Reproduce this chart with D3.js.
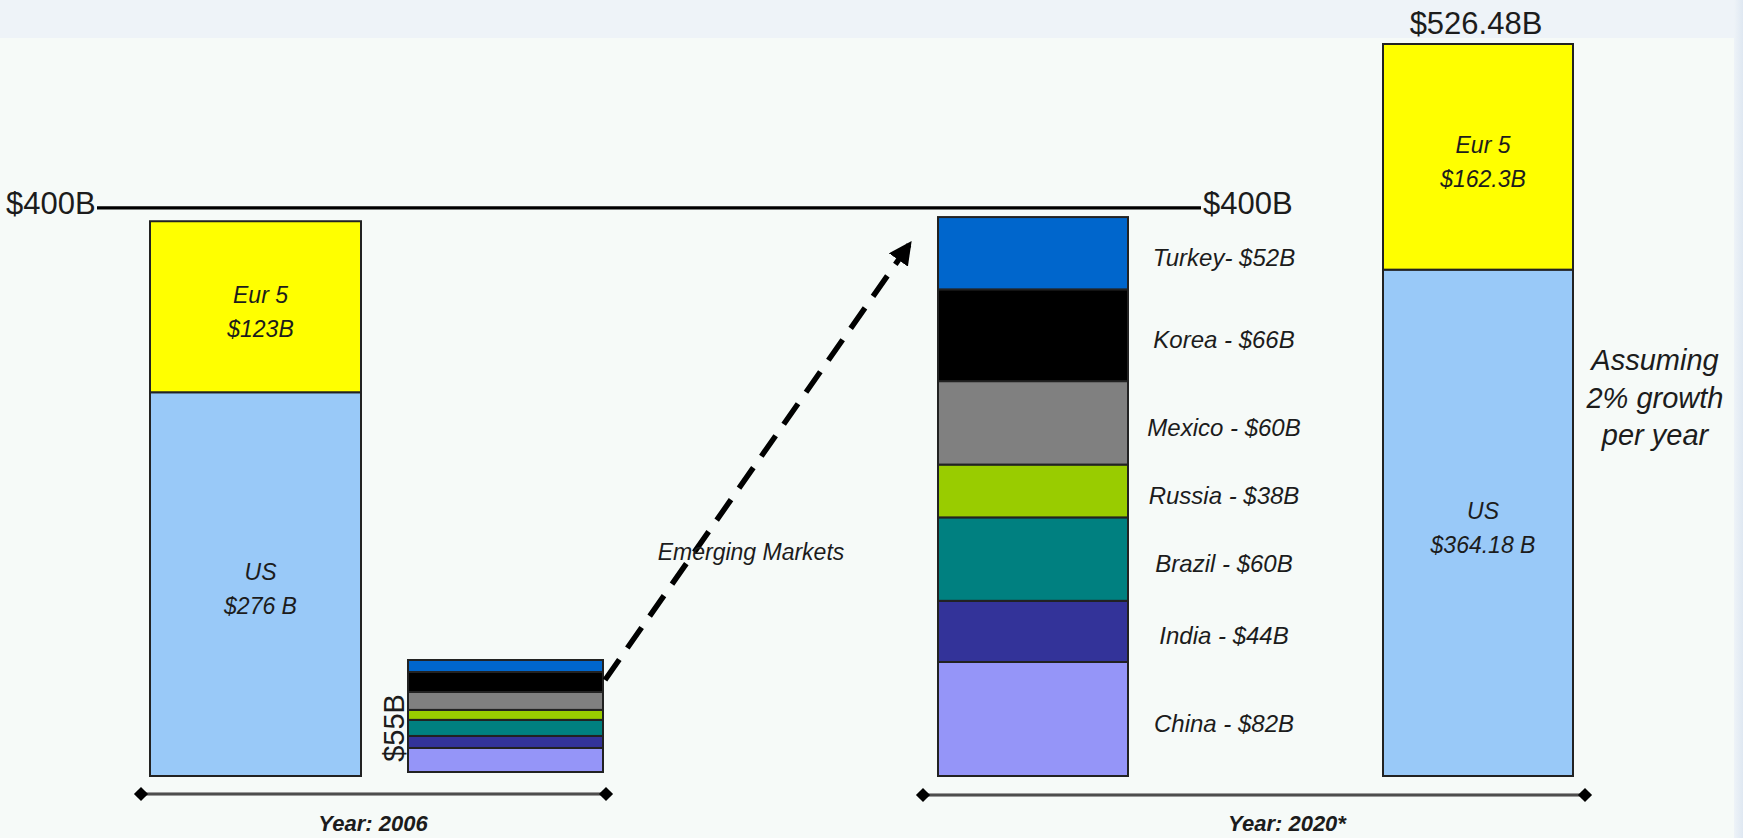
<!DOCTYPE html>
<html>
<head>
<meta charset="utf-8">
<script src="https://cdn.jsdelivr.net/npm/d3@7"></script>
<style>
  html, body { margin: 0; padding: 0; background: #eef3f8; }
  svg { display: block; font-family: "Liberation Sans", Arial, sans-serif; }
</style>
</head>
<body>
<script>
// ---- Data ($ billions) ----
const markets = ["China", "India", "Brazil", "Russia", "Mexico", "Korea", "Turkey"];
const emerging2020 = [82, 44, 60, 38, 60, 66, 52];
const emerging2006 = [11.8, 5.9, 7.9, 4.9, 8.8, 9.8, 5.9];
const emerging2006Total = 55;
const marketLabels = ["China - $82B", "India - $44B", "Brazil - $60B", "Russia - $38B",
                      "Mexico - $60B", "Korea - $66B", "Turkey- $52B"];

const mature = ["US", "Eur 5"];
const mature2006 = [276, 123];
const mature2020 = [364.18, 162.3];
const mature2006Labels = ["$276 B", "$123B"];
const mature2020Labels = ["$364.18 B", "$162.3B"];
const total2020 = 526.48;

const referenceLevel = 400;
const yearLabels = ["Year: 2006", "Year: 2020*"];
const growthNote = ["Assuming", "2% growth", "per year"];

// ---- Styles ----
const marketColors = {
  China: "#9595f8", India: "#333399", Brazil: "#008080", Russia: "#99cc00",
  Mexico: "#808080", Korea: "#000000", Turkey: "#0066cc"
};
const matureColors = { "US": "#99c9f8", "Eur 5": "#ffff00" };
const ink = "#1c1c1c";

const W = 1743, H = 838;
const svg = d3.select("body").append("svg").attr("width", W).attr("height", H);

// Backdrop: slide band on top, light panel for the chart
const defs = svg.append("defs");
const edge = defs.append("linearGradient").attr("id", "edge").attr("x1", 0).attr("x2", 1);
edge.append("stop").attr("offset", 0).attr("stop-color", "#eef3f8");
edge.append("stop").attr("offset", 1).attr("stop-color", "#dfe8f2");
svg.append("rect").attr("width", W).attr("height", H).attr("fill", "#eef3f8");
svg.append("rect").attr("x", 1734).attr("width", 9).attr("height", H).attr("fill", "url(#edge)");
svg.append("rect").attr("x", 0).attr("y", 38).attr("width", 1734).attr("height", H - 38).attr("fill", "#f6faf8");

// ---- Scales ----
const y = d3.scaleLinear().domain([0, total2020]).range([776, 44]);
// the 2006 emerging-markets column is drawn as a magnified inset
const yInset = d3.scaleLinear().domain([0, emerging2006Total]).range([772, 660]);

const columns = ["mature2006", "emerging2006", "emerging2020", "mature2020"];
const xLeft = d3.scaleOrdinal().domain(columns).range([150, 408, 938, 1383]);
const colWidth = d3.scaleOrdinal().domain(columns).range([211, 195, 190, 190]);
const xMid = c => xLeft(c) + colWidth(c) / 2;

// ---- Reference line at $400B (sits just above the level so it clears bar outlines) ----
const refY = y(referenceLevel) - 12;
svg.append("line")
  .attr("x1", 97).attr("x2", 1201).attr("y1", refY).attr("y2", refY)
  .attr("stroke", "#000").attr("stroke-width", 3.2);
svg.append("text").attr("x", 6).attr("y", refY + 6)
  .attr("font-size", 31).attr("fill", ink).text("$" + referenceLevel + "B");
svg.append("text").attr("x", 1203).attr("y", refY + 6)
  .attr("font-size", 31).attr("fill", ink).text("$" + referenceLevel + "B");

// ---- Stacked columns ----
function stack(values, names) {
  const ends = d3.cumsum(values);
  return values.map((v, i) => ({ name: names[i], value: v, y0: ends[i] - v, y1: ends[i], i }));
}

function drawColumn(col, segs, scale, colorOf) {
  const g = svg.append("g");
  g.selectAll("rect").data(segs).join("rect")
    .attr("x", xLeft(col))
    .attr("y", d => scale(d.y1))
    .attr("width", colWidth(col))
    .attr("height", d => scale(d.y0) - scale(d.y1))
    .attr("fill", d => colorOf(d.name))
    .attr("stroke", "#222").attr("stroke-width", 2);
  return g;
}

// mature markets, with two-line labels inside each segment
function drawMature(col, values, labels) {
  const segs = stack(values, mature);
  const g = drawColumn(col, segs, y, n => matureColors[n]);
  const t = g.selectAll("text").data(segs).join("text")
    .attr("text-anchor", "middle").attr("font-style", "italic")
    .attr("font-size", 23).attr("fill", ink)
    .attr("x", xMid(col) + 5)
    .attr("y", d => (y(d.y0) + y(d.y1)) / 2 - 4);
  t.append("tspan").text(d => d.name);
  t.append("tspan").attr("x", xMid(col) + 5).attr("dy", 34).text(d => labels[d.i]);
  return segs;
}

drawMature("mature2006", mature2006, mature2006Labels);
drawMature("mature2020", mature2020, mature2020Labels);

// total above the 2020 mature column
svg.append("text")
  .attr("x", xMid("mature2020") - 2).attr("y", y(total2020) - 10)
  .attr("text-anchor", "middle").attr("font-size", 31).attr("fill", ink)
  .text("$" + total2020 + "B");

// emerging markets 2006 (inset) with rotated total
drawColumn("emerging2006", stack(emerging2006, markets), yInset, n => marketColors[n]);
svg.append("text")
  .attr("transform", `translate(${xLeft("emerging2006") - 4},${(yInset(0) + yInset(emerging2006Total)) / 2 + 12}) rotate(-90)`)
  .attr("text-anchor", "middle").attr("font-size", 29).attr("fill", ink)
  .text("$" + emerging2006Total + "B");

// emerging markets 2020 with labels to the right
const em20 = stack(emerging2020, markets);
drawColumn("emerging2020", em20, y, n => marketColors[n]);
svg.append("g").selectAll("text").data(em20).join("text")
  .attr("x", 1224)
  .attr("y", d => (y(d.y0) + y(d.y1)) / 2 + 13)
  .attr("text-anchor", "middle").attr("font-style", "italic")
  .attr("font-size", 24).attr("fill", ink)
  .text(d => marketLabels[d.i]);

// ---- Dashed growth arrow between the two emerging-markets columns ----
defs.append("marker").attr("id", "head")
  .attr("viewBox", "0 0 10 10").attr("refX", 8).attr("refY", 5)
  .attr("markerWidth", 4.2).attr("markerHeight", 4.2).attr("orient", "auto")
  .attr("markerUnits", "strokeWidth")
  .append("path").attr("d", "M0,0 L10,5 L0,10 Z").attr("fill", "#000");

const arrowStart = [xLeft("emerging2006") + colWidth("emerging2006") + 2, yInset(emerging2006Total) + 20];
const arrowEnd = [xLeft("emerging2020") - 29, y(referenceLevel) + 25];
svg.append("line")
  .attr("x1", arrowStart[0]).attr("y1", arrowStart[1])
  .attr("x2", arrowEnd[0]).attr("y2", arrowEnd[1])
  .attr("stroke", "#000").attr("stroke-width", 5.5)
  .attr("stroke-dasharray", "25,14")
  .attr("marker-end", "url(#head)");

svg.append("text")
  .attr("x", 751).attr("y", 560)
  .attr("text-anchor", "middle").attr("font-style", "italic")
  .attr("font-size", 23).attr("fill", ink)
  .text("Emerging Markets");

// ---- Year axes with diamond ends ----
const axes = [
  { x0: 141, x1: 606, y: 794, labelX: 373, label: yearLabels[0] },
  { x0: 923, x1: 1585, y: 795, labelX: 1287, label: yearLabels[1] }
];
const diamond = d3.symbol().type(d3.symbolSquare).size(100);
axes.forEach(a => {
  svg.append("line")
    .attr("x1", a.x0).attr("x2", a.x1).attr("y1", a.y).attr("y2", a.y)
    .attr("stroke", "#9a9a9a").attr("stroke-width", 4);
  svg.append("line")
    .attr("x1", a.x0).attr("x2", a.x1).attr("y1", a.y).attr("y2", a.y)
    .attr("stroke", "#333").attr("stroke-width", 1.5);
  [a.x0, a.x1].forEach(x => {
    svg.append("path").attr("d", diamond())
      .attr("transform", `translate(${x},${a.y}) rotate(45)`)
      .attr("fill", "#000");
  });
  svg.append("text")
    .attr("x", a.labelX).attr("y", 831)
    .attr("text-anchor", "middle").attr("font-style", "italic").attr("font-weight", "bold")
    .attr("font-size", 22).attr("fill", ink)
    .text(a.label);
});

// ---- Growth assumption note ----
svg.append("text")
  .attr("text-anchor", "middle").attr("font-style", "italic")
  .attr("font-size", 29).attr("fill", ink)
  .selectAll("tspan").data(growthNote).join("tspan")
  .attr("x", 1655).attr("y", (d, i) => [370, 408, 445][i])
  .text(d => d);
</script>
</body>
</html>
